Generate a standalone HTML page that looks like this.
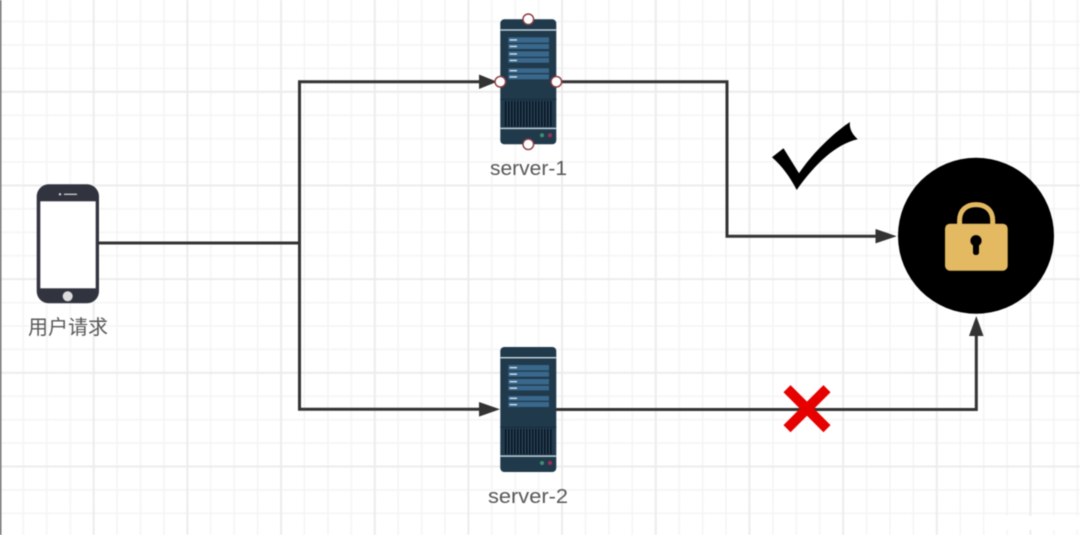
<!DOCTYPE html>
<html>
<head>
<meta charset="utf-8">
<style>
html,body{margin:0;padding:0;background:#fff;width:1080px;height:535px;overflow:hidden}
svg{display:block;filter:blur(0.45px)}
text{font-family:"Liberation Sans","Noto Sans CJK SC",sans-serif;fill:#585858}
</style>
</head>
<body>
<svg xmlns="http://www.w3.org/2000/svg" width="1080" height="535" viewBox="0 0 1080 535">
<defs>
<pattern id="grid" patternUnits="userSpaceOnUse" x="0" y="-1.9" width="93.68" height="93.68">
  <g stroke="#f4f4f4" stroke-width="1.5" fill="none">
    <path d="M23.42 0V93.68M46.84 0V93.68M70.26 0V93.68M0 23.42H93.68M0 46.84H93.68M0 70.26H93.68"/>
  </g>
  <path d="M93.68 0V93.68M0 93.68H93.68M0 0V93.68M0 0H93.68" stroke="#ececec" stroke-width="2" fill="none"/>
</pattern>
<g id="server">
  <rect x="0" y="0" width="56" height="125" rx="4" fill="#203a4c"/>
  <rect x="0" y="10" width="56" height="1.4" fill="#c9d8e0"/>
  <g fill="#39688c">
    <rect x="8" y="18" width="40.7" height="5.4"/>
    <rect x="8" y="24.7" width="40.7" height="5"/>
    <rect x="8" y="32" width="40.7" height="5.4"/>
    <rect x="8" y="38.7" width="40.7" height="4.7"/>
    <rect x="8" y="49" width="40.7" height="4.7"/>
    <rect x="8" y="55" width="40.7" height="5"/>
  </g>
  <g fill="#dfe9ef">
    <rect x="9.3" y="20" width="7.4" height="1.3"/>
    <rect x="9.3" y="26.5" width="7.4" height="1.3"/>
    <rect x="9.3" y="34" width="7.4" height="1.3"/>
    <rect x="9.3" y="40.5" width="7.4" height="1.3"/>
    <rect x="9.3" y="50.7" width="7.4" height="1.3"/>
    <rect x="9.3" y="57" width="7.4" height="1.3"/>
  </g>
  <rect x="0" y="79.6" width="56" height="1" fill="#172c3b"/>
  <rect x="4.3" y="81.7" width="47.4" height="25.7" fill="#35566d"/>
  <path d="M5.5 81.7V107.4M8.5 81.7V107.4M11.5 81.7V107.4M14.5 81.7V107.4M17.5 81.7V107.4M20.5 81.7V107.4M23.5 81.7V107.4M26.5 81.7V107.4M29.5 81.7V107.4M32.5 81.7V107.4M35.5 81.7V107.4M38.5 81.7V107.4M41.5 81.7V107.4M44.5 81.7V107.4M47.5 81.7V107.4M50.5 81.7V107.4" stroke="#0a1724" stroke-width="2"/>
  <rect x="0" y="108.4" width="56" height="1.4" fill="#c9d8e0"/>
  <circle cx="41.7" cy="116" r="2" fill="#3f9270"/>
  <circle cx="49.7" cy="116" r="2" fill="#a3304f"/>
</g>
</defs>

<rect width="1080" height="535" fill="#fff"/>
<rect width="1080" height="535" fill="url(#grid)"/>
<rect x="0" y="0" width="1.3" height="535" fill="#555"/>
<rect x="984" y="516" width="96" height="14" fill="#fff"/>

<!-- connectors -->
<g fill="none" stroke="#333" stroke-width="3">
  <path d="M99 243H299.5"/>
  <path d="M484 81.7H299.5V409.3H484"/>
  <path d="M556 81.7H727V236.2H880"/>
  <path d="M556 409.5H976.3V332"/>
</g>
<g fill="#333">
  <polygon points="479,74.5 497,81.7 479,89"/>
  <polygon points="479,402 500,409.3 479,416.6"/>
  <polygon points="875.5,229 896.7,236.2 875.5,243.4"/>
  <polygon points="969,336 976.3,316 983.5,336"/>
</g>

<!-- phone -->
<rect x="36.7" y="184.3" width="62.3" height="119" rx="12" fill="#31333f"/>
<rect x="40.3" y="201.3" width="55.4" height="87" fill="#fff"/>
<circle cx="67.7" cy="296.3" r="5" fill="#dcdcdc"/>
<circle cx="60" cy="194.3" r="1.2" fill="#ddd"/>
<rect x="64" y="193.7" width="13" height="1.2" fill="#ddd"/>
<text x="28" y="334" font-size="20" textLength="80" lengthAdjust="spacing">用户请求</text>

<!-- servers -->
<use href="#server" x="500.3" y="19.3"/>
<use href="#server" x="500.3" y="347"/>
<g fill="#fff" stroke="#8b3a3f" stroke-width="1.4">
  <circle cx="528.3" cy="19.3" r="5.3"/>
  <circle cx="500.3" cy="81.7" r="5.3"/>
  <circle cx="556.3" cy="81.7" r="5.3"/>
  <circle cx="528.3" cy="144.3" r="5.3"/>
</g>
<text x="490" y="175" font-size="20" textLength="77" lengthAdjust="spacingAndGlyphs">server-1</text>
<text x="488" y="503" font-size="20" textLength="80" lengthAdjust="spacingAndGlyphs">server-2</text>

<!-- check -->
<path d="M772 157.3 L783.5 148.3 L799 173.3 C812 154 832 134 850 122 C849 128 852 134 857.7 139.3 C836 144 815 164 796.7 190 C790 177 782 166 772 157.3 Z" fill="#000"/>

<!-- cross -->
<path d="M787 388.7L827 428.7M827 388.7L787 428.7" stroke="#e60000" stroke-width="10" fill="none"/>

<!-- lock -->
<circle cx="976" cy="235.8" r="78" fill="#000"/>
<path d="M959.6 226V220.5C959.6 210 966.5 204.6 976 204.6C985.5 204.6 992.7 210 992.7 220.5V226" fill="none" stroke="#e3b961" stroke-width="5"/>
<rect x="945" y="223.7" width="62.7" height="47" rx="5" fill="#e3b961"/>
<circle cx="976" cy="240.7" r="5.6" fill="#000"/>
<rect x="973" y="241" width="6" height="14" rx="2.5" fill="#000"/>
</svg>
</body>
</html>
